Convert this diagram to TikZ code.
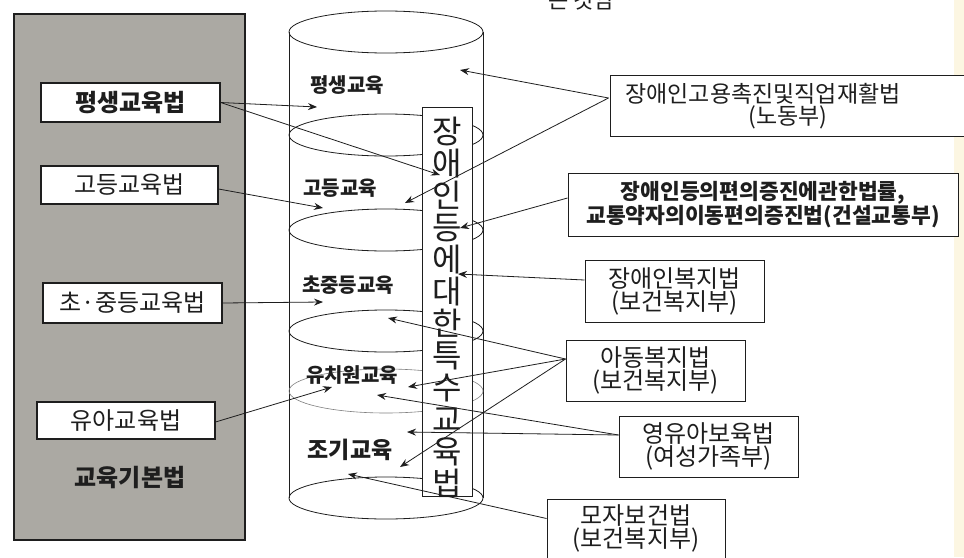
\documentclass[tikz,border=0pt]{standalone}
\usepackage{fontspec}
\setmainfont{Noto Sans CJK KR}
\usetikzlibrary{arrows.meta,calc}
\definecolor{panelgray}{HTML}{ABA9A3}
\definecolor{ink}{HTML}{1E1E1E}
\definecolor{scanyellow}{HTML}{FCF6E2}
\tikzset{
  lawbox/.style={draw=ink, line width=1.1pt, fill=white, inner sep=0pt, font=\fontsize{24}{26}\selectfont, text=ink},
  rbox/.style={draw=ink, line width=1pt, fill=white, inner sep=0pt, align=center, text=ink, font=\fontsize{24}{23}\selectfont},
  lvl/.style={font=\fontsize{20}{22}\selectfont\bfseries, text=ink, inner sep=0pt},
  cyl/.style={draw=ink, line width=0.8pt},
  arr/.style={draw=ink, line width=0.8pt, -{Stealth[length=9pt,width=7pt,inset=3pt]}}
}
\begin{document}
\begin{tikzpicture}[x=1pt,y=-1pt]
\useasboundingbox (0,0) rectangle (964,557);
\fill[white] (0,0) rectangle (964,557);
\fill[scanyellow] (954,0) rectangle (964,557);
% cut caption at top
\node[anchor=base, font=\fontsize{22}{24}\selectfont, text=ink, inner sep=0pt] (cap) at (581,8) {는 것임};
% left panel
\node[draw=ink, line width=1.2pt, fill=panelgray, minimum width=231pt, minimum height=526pt, inner sep=0pt] (panel) at (129.5,277) {};
\node[lawbox, minimum width=179pt, minimum height=39pt, font=\fontsize{24}{26}\selectfont\bfseries] (lb1) at (130.5,102.5) {평생교육법};
\node[lawbox, minimum width=177pt, minimum height=38pt] (lb2) at (129.5,185) {고등교육법};
\node[lawbox, minimum width=179pt, minimum height=40pt] (lb3) at (132.5,303) {초·중등교육법};
\node[lawbox, minimum width=178pt, minimum height=37pt] (lb4) at (126,420.5) {유아교육법};
\node[font=\fontsize{24}{26}\selectfont\bfseries, text=ink, inner sep=0pt] (basic) at (130,478) {교육기본법};
% cylinder
\draw[cyl] (289,32) -- (289,498);
\draw[cyl] (483,32) -- (483,498);
\draw[cyl] (386,32) ellipse [x radius=97pt, y radius=21pt];
\draw[cyl] (386,135) ellipse [x radius=97pt, y radius=21pt];
\draw[cyl] (386,230) ellipse [x radius=97pt, y radius=21pt];
\draw[cyl] (386,331) ellipse [x radius=97pt, y radius=21pt];
\draw[draw=gray, line width=0.6pt] (386,391) ellipse [x radius=97pt, y radius=22pt];
\draw[cyl] (386,498) ellipse [x radius=97pt, y radius=21pt];
% vertical law box
\node[draw=ink, line width=1pt, fill=white, minimum width=50pt, minimum height=389pt, inner sep=0pt] (vbox) at (447,301.5) {};
\node[align=center, font=\fontsize{32}{32}\selectfont, text=ink, inner sep=0pt] (vtext) at (447,307.5)
  {장\\애\\인\\등\\에\\대\\한\\특\\수\\교\\육\\법};
% level labels
\node[lvl] (c1) at (347,85) {평생교육};
\node[lvl] (c2) at (340,188) {고등교육};
\node[lvl] (c3) at (348,285) {초중등교육};
\node[lvl] (c4) at (352,375) {유치원교육};
\node[lvl, font=\fontsize{23}{25}\selectfont\bfseries] (c5) at (350,450) {조기교육};
% right boxes
\node[rbox, minimum width=365pt, minimum height=61pt] (rA) at (792.5,105.5) {};
\node[align=center, font=\fontsize{23}{22}\selectfont, text=ink, inner sep=0pt] (tA) at (763,106)
  {장애인고용촉진및직업재활법\\\hspace*{50pt}(노동부)};
\node[rbox, minimum width=390pt, minimum height=63pt, font=\fontsize{21.5}{20.5}\selectfont\bfseries] (rB) at (763,204.5)
  {장애인등의편의증진에관한법률,\\교통약자의이동편의증진법(건설교통부)};
\node[rbox, minimum width=179pt, minimum height=62pt] (rC) at (674.5,291) {장애인복지법\\(보건복지부)};
\node[rbox, minimum width=179pt, minimum height=61pt] (rD) at (655.5,370.5) {아동복지법\\(보건복지부)};
\node[rbox, minimum width=179pt, minimum height=61pt] (rE) at (708.5,446.5) {영유아보육법\\(여성가족부)};
\node[rbox, minimum width=178pt, minimum height=75pt] (rF) at (636,536.5) {};
\node[align=center, font=\fontsize{24}{23}\selectfont, text=ink, inner sep=0pt] (tF) at (636,528.5) {모자보건법\\(보건복지부)};
% arrow tips
\coordinate (t1) at (317,107);
\coordinate (t2) at (440,175);
\coordinate (t3) at (323,208);
\coordinate (t4) at (323,302);
\coordinate (t5) at (332,387);
\coordinate (u1) at (460,70);
\coordinate (u2) at (405,203);
\coordinate (u3) at (460,228);
\coordinate (u4) at (458,274);
\coordinate (u5) at (388,318);
\coordinate (u6) at (408,387);
\coordinate (u7) at (400,467);
\coordinate (u8) at (377,395);
\coordinate (u9) at (407,432);
\coordinate (u10) at (348,474);
% left arrows
\draw[arr] (lb1.east) -- (t1);
\draw[arr] (lb1.east) -- (t2);
\draw[arr] ($(lb2.east)+(0,4)$) -- (t3);
\draw[arr] (lb3.east) -- (t4);
\draw[arr] ($(lb4.east)+(0,1.5)$) -- (t5);
% right arrows
\coordinate (sA) at ($(rA.west)+(-1,-7.5)$);
\coordinate (sB) at ($(rB.west)+(0,-6.5)$);
\coordinate (sC) at ($(rC.west)+(0,-11)$);
\coordinate (sD) at ($(rD.west)+(0,-11.5)$);
\coordinate (sE) at ($(rE.west)+(0,-11.5)$);
\coordinate (sF) at ($(rF.west)+(0,-18)$);
\draw[arr] (sA) -- (u1);
\draw[arr] (sA) -- (u2);
\draw[arr] (sB) -- (u3);
\draw[arr] (sC) -- (u4);
\draw[arr] (sD) -- (u5);
\draw[arr] (sD) -- (u6);
\draw[arr] (sD) -- (u7);
\draw[arr] (sE) -- (u8);
\draw[arr] (sE) -- (u9);
\draw[arr] (sF) -- (u10);
\end{tikzpicture}
\end{document}
